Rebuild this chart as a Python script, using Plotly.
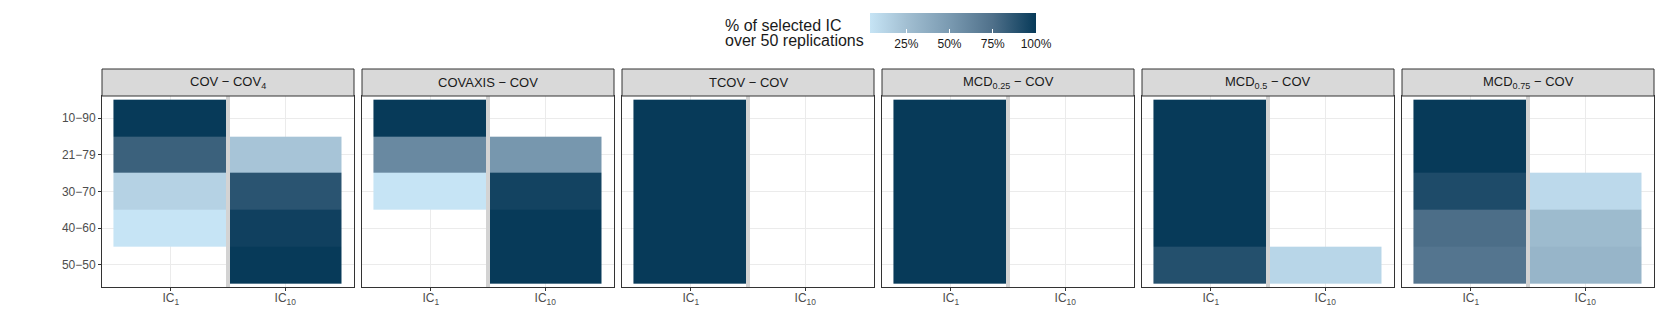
import plotly.graph_objects as go

W, H = 1661, 332

# ---- data ----
methods = ["COV − COV<sub>4</sub>", "COVAXIS − COV", "TCOV − COV",
           "MCD<sub>0.25</sub> − COV", "MCD<sub>0.5</sub> − COV", "MCD<sub>0.75</sub> − COV"]
ic_labels = ["IC<sub>1</sub>", "IC<sub>10</sub>"]
mix_labels = ["10−90", "21−79", "30−70", "40−60", "50−50"]

# share of replications (0-1) selecting IC1 / IC10, rows follow mix_labels
ic1_share = [
    [1.00, 0.82, 0.14, 0.04, None],
    [1.00, 0.60, 0.04, None, None],
    [1.00, 1.00, 1.00, 1.00, 1.00],
    [1.00, 1.00, 1.00, 1.00, 1.00],
    [1.00, 1.00, 1.00, 1.00, 0.90],
    [1.00, 1.00, 0.92, 0.76, 0.72],
]
ic10_share = [
    [None, 0.22, 0.88, 0.97, 1.00],
    [None, 0.52, 0.96, 1.00, 1.00],
    [None, None, None, None, None],
    [None, None, None, None, None],
    [None, None, None, None, 0.12],
    [None, None, 0.10, 0.28, 0.32],
]

cmin, cmax = 0.04, 1.0
stops = [(0.04, "#C6E4F5"), (0.25, "#A2BFD2"), (0.50, "#7A9AB1"), (0.75, "#4F708A"), (1.00, "#073A59")]
colorscale = [[(v - cmin) / (cmax - cmin), c] for v, c in stops]

# ---- layout geometry (pixels) ----
panel_left, panel_w, panel_step = 102, 252, 260
panel_top, panel_bot = 96, 287
strip_top = 69

def px_x(p):
    return p / W

def px_y(p):
    return 1 - p / H

fig = go.Figure()
shapes = []
annotations = []

for i, name in enumerate(methods):
    ax = "" if i == 0 else str(i + 1)
    x0 = panel_left + i * panel_step
    x1 = x0 + panel_w
    z = [[ic1_share[i][r], ic10_share[i][r]] for r in range(len(mix_labels))]
    fig.add_trace(go.Heatmap(
        x=[1, 2], y=[1, 2, 3, 4, 5], z=z, coloraxis="coloraxis",
        xaxis="x" + ax, yaxis="y" + ax, hoverongaps=False,
        xgap=1,
    ))
    fig.layout["xaxis" + ax] = dict(
        domain=[px_x(x0), px_x(x1)], anchor="y" + ax, range=[0.4, 2.6],
        tickvals=[1, 2], ticktext=ic_labels, showgrid=True, gridcolor="#EBEBEB",
        gridwidth=1, zeroline=False, ticks="outside", ticklen=3, tickcolor="#333333",
        tickfont=dict(size=12, color="#4D4D4D"), showline=True, mirror=True,
        linecolor="#333333", linewidth=1, fixedrange=True, ticklabelstandoff=-3,
    )
    fig.layout["yaxis" + ax] = dict(
        domain=[px_y(panel_bot), px_y(panel_top)], anchor="x" + ax, range=[5.6, 0.4],
        tickvals=[1, 2, 3, 4, 5], ticktext=mix_labels if i == 0 else [""] * 5,
        showgrid=True, gridcolor="#EBEBEB", gridwidth=1, zeroline=False,
        ticks="outside" if i == 0 else "", ticklen=3, tickcolor="#333333",
        tickfont=dict(size=12, color="#4D4D4D"), showline=True, mirror=True,
        linecolor="#333333", linewidth=1, fixedrange=True,
    )
    # separator between IC columns
    shapes.append(dict(type="line", xref="x" + ax, yref="y" + ax + " domain",
                       x0=1.5, x1=1.5, y0=0, y1=1, line=dict(color="#D3D3D3", width=4), layer="above"))
    # strip
    shapes.append(dict(type="rect", xref="paper", yref="paper",
                       x0=px_x(x0), x1=px_x(x1), y0=px_y(panel_top), y1=px_y(strip_top),
                       fillcolor="#D9D9D9", line=dict(color="#333333", width=1)))
    annotations.append(dict(text=name, xref="paper", yref="paper",
                            x=px_x((x0 + x1) / 2), y=px_y((strip_top + panel_top) / 2),
                            showarrow=False, font=dict(size=13, color="#1A1A1A"),
                            xanchor="center", yanchor="middle"))

# legend title, one annotation per line to keep the tight line spacing
for txt, yc in [("% of selected IC", 25), ("over 50 replications", 40.5)]:
    annotations.append(dict(text=txt, xref="paper", yref="paper",
                            x=px_x(723), y=px_y(yc), xanchor="left", yanchor="middle",
                            showarrow=False, font=dict(size=16, color="#1A1A1A")))

fig.update_layout(
    width=W, height=H,
    margin=dict(l=0, r=0, t=0, b=0),
    paper_bgcolor="white", plot_bgcolor="white",
    font=dict(family="Liberation Sans, Arial, sans-serif"),
    shapes=shapes, annotations=annotations,
    coloraxis=dict(
        cmin=cmin, cmax=cmax, colorscale=colorscale,
        colorbar=dict(
            orientation="h", lenmode="pixels", len=166, thicknessmode="pixels", thickness=20,
            x=px_x(870), xanchor="left", y=px_y(12.5), yanchor="top", xpad=0, ypad=0,
            outlinewidth=0, tickvals=[0.25, 0.5, 0.75, 1.0],
            ticktext=["25%", "50%", "75%", "100%"], ticks="inside", ticklen=4,
            tickcolor="white", tickfont=dict(size=12, color="#1A1A1A"),
        ),
    ),
)

# drop the default 8px page margin so the figure sits at the window origin
fig.write_html("out.html", config={"displayModeBar": False},
               post_script="document.body.style.margin='0';")
